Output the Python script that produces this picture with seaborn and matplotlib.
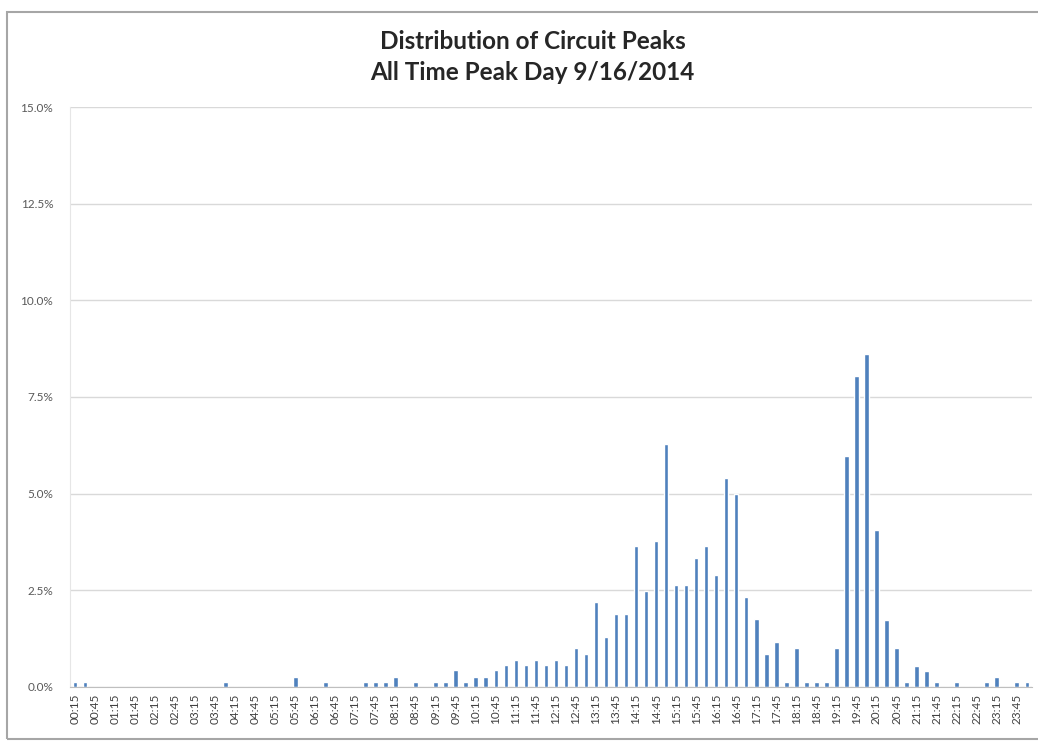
import numpy as np
import pandas as pd
import matplotlib
matplotlib.use('Agg')
import matplotlib.pyplot as plt
import seaborn as sns
from matplotlib.ticker import PercentFormatter
from matplotlib.patches import Rectangle

# intervalos de 15 minutos, 00:15 .. 24:00
horas = [f"{(m // 60):02d}:{(m % 60):02d}" for m in range(15, 24 * 60 + 1, 15)]

# porcentaje de picos por intervalo
picos = [
    0.12, 0.12, 0, 0, 0, 0, 0, 0, 0, 0, 0, 0, 0, 0, 0, 0.12,
    0, 0, 0, 0, 0, 0, 0.26, 0, 0, 0.12, 0, 0, 0, 0.12, 0.12, 0.12,
    0.26, 0, 0.12, 0, 0.12, 0.12, 0.43, 0.12, 0.26, 0.26, 0.43, 0.57, 0.71, 0.57, 0.71, 0.57,
    0.71, 0.57, 1.00, 0.86, 2.19, 1.29, 1.90, 1.90, 3.64, 2.48, 3.78, 6.29, 2.63, 2.63, 3.34, 3.64,
    2.90, 5.41, 4.98, 2.32, 1.75, 0.86, 1.16, 0.12, 1.00, 0.12, 0.12, 0.12, 1.00, 5.98, 8.03, 8.62,
    4.06, 1.74, 1.00, 0.12, 0.55, 0.42, 0.12, 0, 0.12, 0, 0, 0.12, 0.26, 0, 0.12, 0.12,
]
etiquetas = horas[::2]

df = pd.DataFrame({'hora': horas, 'pico': picos})

sns.set_style('white')
plt.rcParams['font.family'] = ['Lato', 'DejaVu Sans']

fig = plt.figure(figsize=(10.38, 7.41), dpi=100)
ax = fig.add_axes([0.0674, 0.0729, 0.9266, 0.7827])

sns.barplot(data=df, x='hora', y='pico', color='#4F81BD', width=0.45,
            saturation=1, ax=ax)

ax.set_ylim(0, 15)
ax.set_yticks(np.arange(0, 15.1, 2.5))
ax.yaxis.set_major_formatter(PercentFormatter(xmax=100, decimals=1))
ax.set_xlim(-0.5, 95.5)
ax.set_xticks(range(0, 96, 2))
ax.set_xticklabels(etiquetas, rotation=90)
ax.set_xticks(np.arange(-0.5, 96, 1), minor=True)
ax.tick_params(axis='x', which='major', length=0, labelsize=8.5, colors='#404040', pad=5)
ax.tick_params(axis='x', which='minor', length=3, color='#bfbfbf', width=0.8)
ax.tick_params(axis='y', length=0, labelsize=8.5, colors='#595959', pad=12)
ax.yaxis.grid(True, color='#d9d9d9', linewidth=1)
ax.set_axisbelow(True)
ax.set_xlabel('')
ax.set_ylabel('')
for lado in ['top', 'right']:
    ax.spines[lado].set_visible(False)
ax.spines['left'].set_color('#e6e6e6')
ax.spines['bottom'].set_color('#bfbfbf')

fig.text(0.513, 0.944, 'Distribution of Circuit Peaks', ha='center', va='center',
         fontsize=17.5, fontweight='bold', color='#262626')
fig.text(0.513, 0.902, 'All Time Peak Day 9/16/2014', ha='center', va='center',
         fontsize=17.5, fontweight='bold', color='#262626')

# marco del grafico
fig.patches.append(Rectangle((0.007, 0.003), 1.2, 0.981, transform=fig.transFigure,
                             fill=False, edgecolor='#a6a6a6', linewidth=1.5))

fig.savefig('out.png', dpi=100)
